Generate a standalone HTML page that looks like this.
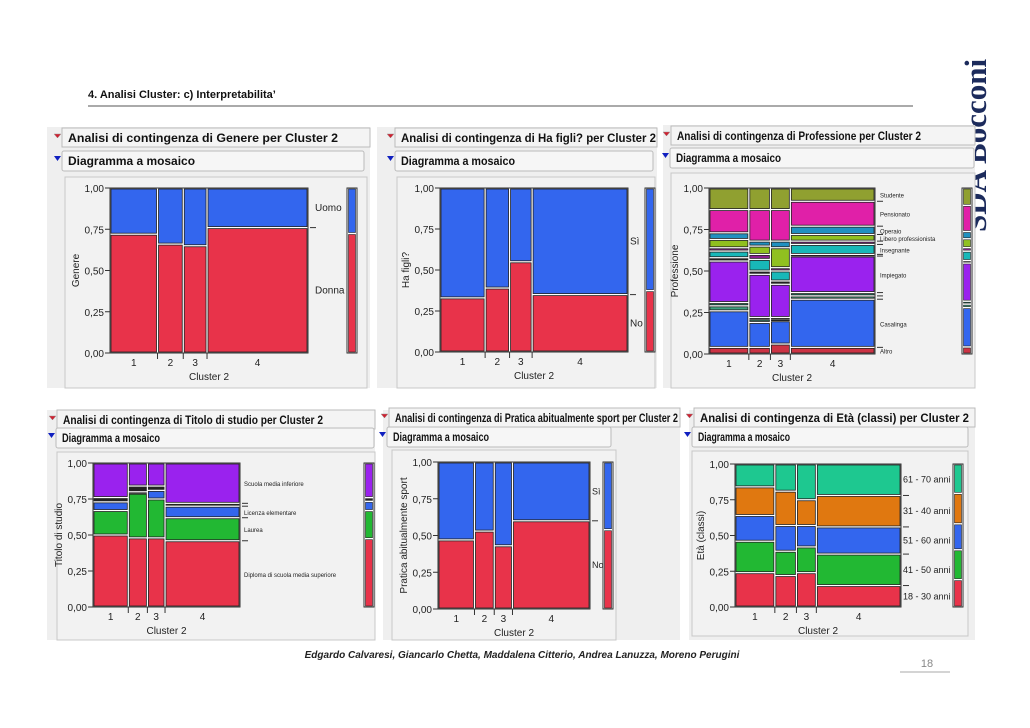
<!DOCTYPE html>
<html><head><meta charset="utf-8"><style>
body{margin:0;background:#fff;}
svg{display:block;font-family:"Liberation Sans",sans-serif;}
</style></head><body>
<svg id="s" width="1030" height="728" viewBox="0 0 1030 728" xmlns="http://www.w3.org/2000/svg">
<text x="0" y="0" transform="translate(986,232) rotate(-90)" font-family="Liberation Serif,serif" font-weight="bold" font-size="31" fill="#1c2b5c">SDA Bocconi</text>
<text x="88" y="98" font-size="11" font-weight="bold" fill="#111">4. Analisi Cluster: c) Interpretabilita’</text>
<line x1="88" y1="106" x2="913" y2="106" stroke="#555" stroke-width="1"/>
<g id="charts"></g>
<text x="522" y="658" text-anchor="middle" font-size="10" font-style="italic" font-weight="bold" fill="#222">Edgardo Calvaresi, Giancarlo Chetta, Maddalena Citterio, Andrea Lanuzza, Moreno Perugini</text>
<text x="927" y="667" text-anchor="middle" font-size="11" fill="#888">18</text>
<line x1="900" y1="672" x2="950" y2="672" stroke="#aaa"/>
</svg>
<script>
// shared
const clusters = ["1","2","3","4"];
const clusterSizes = [24,13,12,51];
const yTicks = [0,0.25,0.5,0.75,1];
const yTickLabels = ["0,00","0,25","0,50","0,75","1,00"];
// Genere
const genereCats = ["Donna","Uomo"];
const genereDonna = [0.72,0.66,0.65,0.76];
const genereUomo = [0.28,0.34,0.35,0.24];
// Ha figli
const figliCats = ["No","Sì"];
const figliNo = [0.33,0.39,0.55,0.35];
const figliSi = [0.67,0.61,0.45,0.65];
// Professione
const profCats = ["Altro","Casalinga","","","Impiegato","","Insegnante","","Libero professionista","Operaio","Pensionato","Studente"];
const profC1 = [0.04,0.22,0.03,0.02,0.25,0.02,0.04,0.02,0.05,0.04,0.14,0.13];
const profC2 = [0.04,0.15,0.02,0.01,0.26,0.02,0.07,0.03,0.05,0.03,0.19,0.13];
const profC3 = [0.06,0.14,0.01,0.01,0.20,0.02,0.06,0.02,0.12,0.04,0.19,0.13];
const profC4 = [0.04,0.29,0.02,0.02,0.22,0.01,0.06,0.02,0.04,0.05,0.15,0.08];
// Titolo di studio
const titCats = ["Diploma di scuola media superiore","Laurea","Licenza elementare","","Scuola media inferiore"];
const titC1 = [0.50,0.17,0.06,0.03,0.24];
const titC2 = [0.48,0.31,0.01,0.04,0.16];
const titC3 = [0.48,0.27,0.06,0.03,0.16];
const titC4 = [0.46,0.16,0.08,0.02,0.28];
// Sport
const sportCats = ["No","Sì"];
const sportNo = [0.47,0.53,0.43,0.60];
const sportSi = [0.53,0.47,0.57,0.40];
// Età
const etaCats = ["18 - 30 anni","41 - 50 anni","51 - 60 anni","31 - 40 anni","61 - 70 anni"];
const etaC1 = [0.24,0.22,0.18,0.20,0.16];
const etaC2 = [0.22,0.17,0.18,0.24,0.19];
const etaC3 = [0.24,0.18,0.15,0.18,0.25];
const etaC4 = [0.15,0.22,0.19,0.22,0.22];

const R="#e8334a",B="#3366ee",G="#22b833",P="#9a22ee",O="#e07810",T="#1ec890";
const panels=[
 {name:"genere",title:"Analisi di contingenza di Genere per Cluster 2",box:[47,127,323,261],tt:[68,142,270],dg:[68,165,127],dgw:302,fr:[65,177,302,211],pl:[110,188,198,165],bar:348,lx:315,lf:10,yt:"Genere",
  cats:genereCats,cols:[R,B],data:[0,1,2,3].map(i=>[genereDonna[i],genereUomo[i]])},
 {name:"figli",title:"Analisi di contingenza di Ha figli? per Cluster 2",box:[377,127,280,261],tt:[401,142,255],dg:[401,165,114],dgw:258,fr:[397,177,258,211],pl:[440,188,188,164],bar:646,lx:630,lf:10,yt:"Ha figli?",
  cats:figliCats,cols:[R,B],data:[0,1,2,3].map(i=>[figliNo[i],figliSi[i]])},
 {name:"professione",title:"Analisi di contingenza di Professione per Cluster 2",box:[663,125,312,263],tt:[677,140,244],dg:[676,162,105],dgw:304,fr:[671,173,304,215],pl:[709,188,166,166],bar:963,lx:880,lf:6,yt:"Professione",
  cats:profCats,cols:["#cc3344",B,"#40a080","#1a8060",P,"#222","#18b8b8","#8a2090","#90c020","#2090c0","#e020a8","#90a030"],data:[profC1,profC2,profC3,profC4]},
 {name:"titolo",title:"Analisi di contingenza di Titolo di studio per Cluster 2",box:[47,410,328,230],tt:[63,424,260],dg:[62,442,98],dgw:318,fr:[57,452,318,188],pl:[93,463,147,144],bar:365,lx:244,lf:6,yt:"Titolo di studio",
  cats:titCats,cols:[R,G,B,"#222",P],data:[titC1,titC2,titC3,titC4]},
 {name:"sport",title:"Analisi di contingenza di Pratica abitualmente sport per Cluster 2",box:[383,410,297,230],tt:[395,422,283],dg:[393,441,96],dgw:224,fr:[392,450,224,190],pl:[438,462,152,147],bar:604,lx:592,lf:9,yt:"Pratica abitualmente sport",
  cats:sportCats,cols:[R,B],data:[0,1,2,3].map(i=>[sportNo[i],sportSi[i]])},
 {name:"eta",title:"Analisi di contingenza di Età (classi) per Cluster 2",box:[689,410,286,230],tt:[700,422,269],dg:[698,441,92],dgw:276,fr:[692,451,276,185],pl:[735,464,166,143],bar:954,lx:903,lf:9,yt:"Età (classi)",
  cats:etaCats,cols:[R,G,B,O,T],data:[etaC1,etaC2,etaC3,etaC4]}
];
const NS="http://www.w3.org/2000/svg";
const root=document.getElementById("charts");
function mk(t,a,p,txt){const e=document.createElementNS(NS,t);for(const k in a)e.setAttribute(k,a[k]);if(txt!==undefined)e.textContent=txt;(p||root).appendChild(e);return e;}
const total=clusterSizes.reduce((a,b)=>a+b,0);
panels.forEach(pn=>{
 const g=mk("g",{});
 
 
 const [bx,by,bw,bh]=pn.box;
 const bg=mk("rect",{x:bx,y:by,width:bw,height:bh,fill:"#efefef"},g);
 
 
 const th=mk("rect",{x:pn.tt[0]-6,y:pn.tt[1]-14,width:bx+bw-pn.tt[0]+6,height:19,fill:"#f4f4f4",stroke:"#bbb"},g);
 
 
 mk("path",{d:`M${pn.tt[0]-14} ${pn.tt[1]-8} l7 0 l-3.5 4z`,fill:"#d02030",stroke:"#999","stroke-width":0.5},g);
 const tt=mk("text",{x:pn.tt[0],y:pn.tt[1],"font-size":12,"font-weight":"bold",fill:"#111",textLength:pn.tt[2],lengthAdjust:"spacingAndGlyphs"},g,pn.title);
 
 
 const dh=mk("rect",{x:pn.dg[0]-6,y:pn.dg[1]-14,width:pn.dgw,height:20,fill:"#f6f6f6",stroke:"#bbb",rx:2},g);
 
 
 mk("path",{d:`M${pn.dg[0]-14} ${pn.dg[1]-9} l7 0 l-3.5 5z`,fill:"#1020c0"},g);
 const dt=mk("text",{x:pn.dg[0],y:pn.dg[1],"font-size":12,"font-weight":"bold",fill:"#111",textLength:pn.dg[2],lengthAdjust:"spacingAndGlyphs"},g,"Diagramma a mosaico");
 
 
 const [fx,fy,fw,fh]=pn.fr;
 const fr=mk("rect",{x:fx,y:fy,width:fw,height:fh,fill:"#f2f2f2",stroke:"#c8c8c8"},g);
 
 
 const [px,py,pw,ph]=pn.pl;
 const ys=v=>py+(1-v)*ph;
 let acc=0;const xs=clusterSizes.map(s=>{const a=px+acc/total*pw;acc+=s;return [a,px+acc/total*pw];});
 const pb=mk("rect",{x:px,y:py,width:pw,height:ph,fill:"#fff",stroke:"#333"},g);
 
 
 pn.data.forEach((col,ci)=>{
  let c=0;const [x0,x1]=xs[ci];
  col.forEach((v,k)=>{
   const yTop=ys(c+v),yBot=ys(c);c+=v;
   const h=Math.max(0.6,yBot-yTop-2);
   const r=mk("rect",{x:x0+1,y:yTop+1,width:x1-x0-2,height:h,fill:pn.cols[k],stroke:"#222","stroke-width":0.8},g);
   
   
  });
  const xl=mk("text",{x:(x0+x1)/2,y:py+ph+13,"font-size":10,"text-anchor":"middle",fill:"#222"},g,clusters[ci]);
  
  
  if(ci>0)mk("line",{x1:x0,y1:py+ph,x2:x0,y2:py+ph+6,stroke:"#333"},g);
 });
 yTicks.forEach((t,i)=>{
  mk("line",{x1:px-5,y1:ys(t),x2:px,y2:ys(t),stroke:"#333"},g);
  const yl=mk("text",{x:px-6,y:ys(t)+4,"font-size":10,"text-anchor":"end",fill:"#222"},g,yTickLabels[i]);
  
  
 });
 const yt=mk("text",{x:0,y:0,transform:`translate(${px-31},${py+ph/2}) rotate(-90)`,"font-size":10,"text-anchor":"middle",fill:"#222"},g,pn.yt);
 
 
 const xt=mk("text",{x:px+pw/2,y:py+ph+27,"font-size":10,"text-anchor":"middle",fill:"#222"},g,"Cluster 2");
 
 
 const last=pn.data[3];let c=0;
 last.forEach((v,k)=>{
  const mid=ys(c+v/2);c+=v;
  if(k<last.length-1)mk("line",{x1:px+pw+2,y1:ys(c),x2:px+pw+8,y2:ys(c),stroke:"#333"},g);
  if(pn.cats[k]){
   const l=mk("text",{x:pn.lx,y:mid+3,"font-size":pn.lf,fill:"#222"},g,pn.cats[k]);
   
   
  }
 });
 const marg=pn.cats.map((_,k)=>pn.data.reduce((s,col,ci)=>s+col[k]*clusterSizes[ci],0)/total);
 mk("rect",{x:pn.bar-1,y:py,width:10,height:ph,fill:"#fff",stroke:"#333"},g);
 c=0;
 marg.forEach((v,k)=>{
  const yTop=ys(c+v),yBot=ys(c);c+=v;
  const m=mk("rect",{x:pn.bar+0.5,y:yTop+1,width:7,height:Math.max(0.6,yBot-yTop-2),fill:pn.cols[k],stroke:"#222","stroke-width":0.6},g);
  
  
 });
});
</script>
</body></html>
